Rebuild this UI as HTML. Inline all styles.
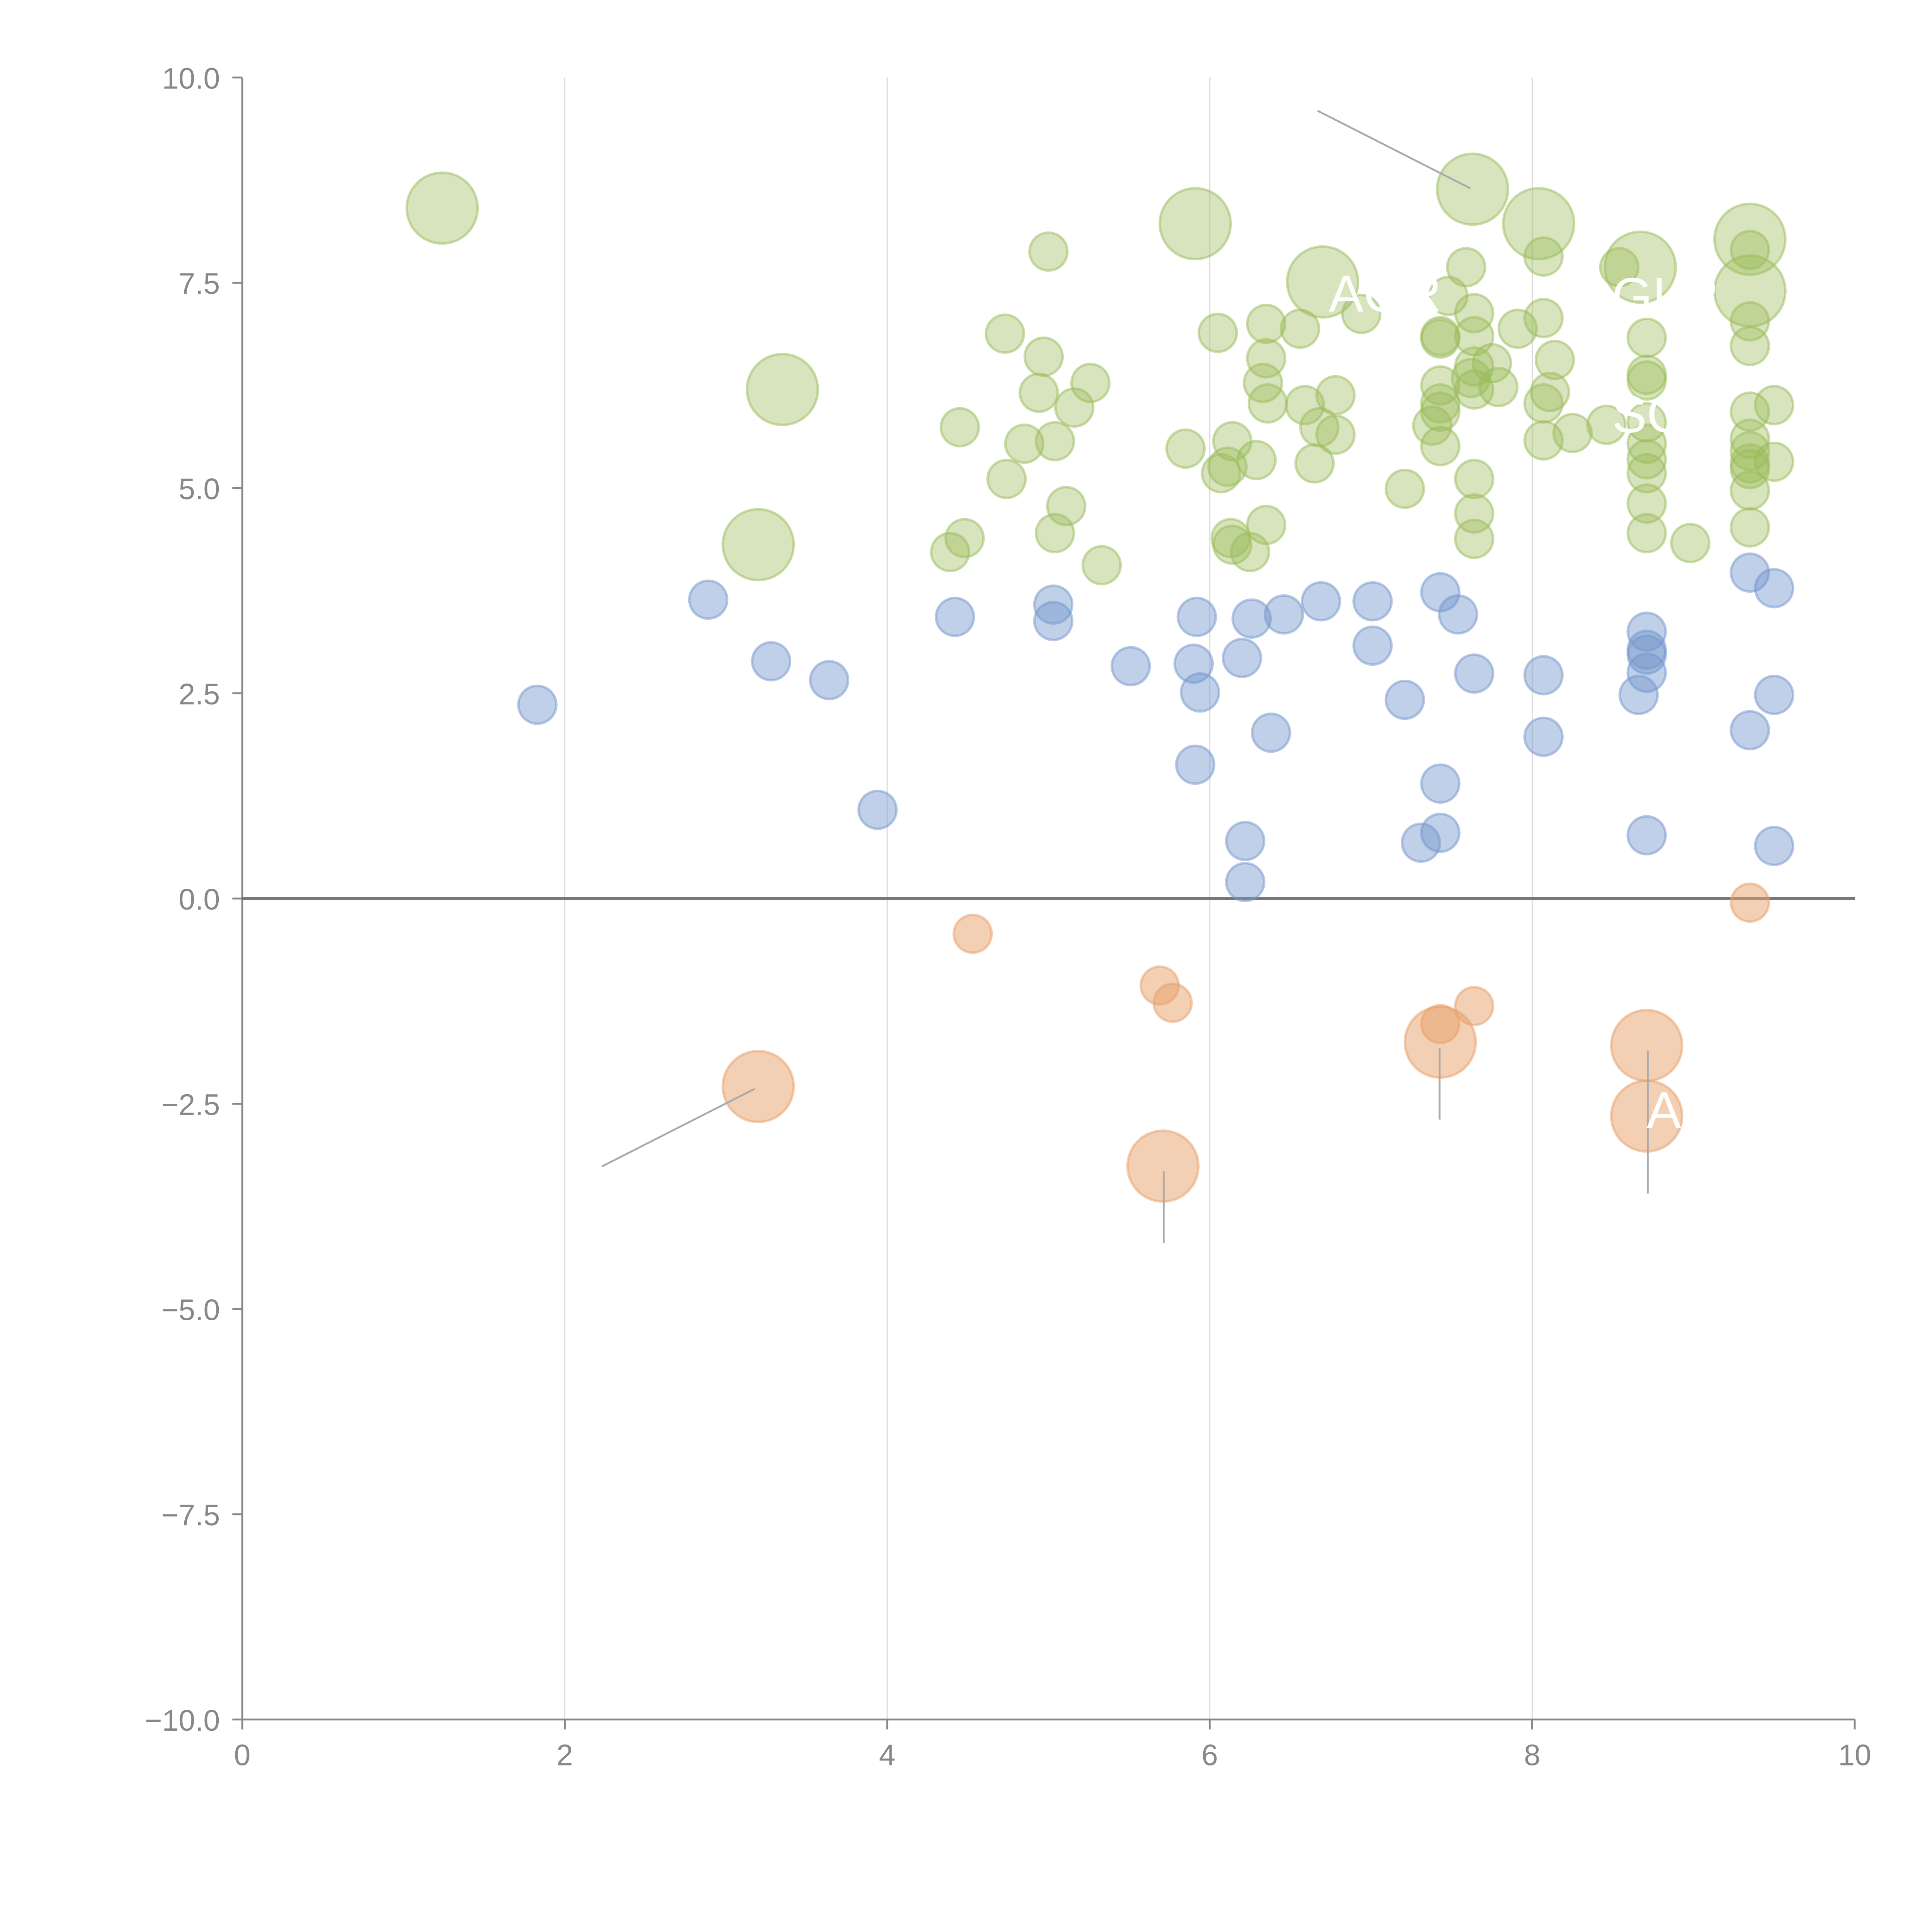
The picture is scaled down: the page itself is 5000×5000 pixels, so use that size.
<!DOCTYPE html>
<html><head><meta charset="utf-8"><style>
html,body{margin:0;padding:0;background:#fff;}
svg{display:block;}
text{font-family:"Liberation Sans",Arial,sans-serif;}
</style></head><body>
<svg id="chart" width="5000" height="5000" viewBox="0 0 1560 1560" xmlns="http://www.w3.org/2000/svg">
<g id="grid"></g>
<g id="axes"></g>
<g id="marks"></g>
<g id="notes"></g>
</svg>
<script>
const xTicks=[0,2,4,6,8,10];
const yTicks=[10,7.5,5,2.5,0,-2.5,-5,-7.5,-10];
const yTickLabels=["10.0","7.5","5.0","2.5","0.0","\u22122.5","\u22125.0","\u22127.5","\u221210.0"];
const greenX=[1.24,5.91,7.63,8.04,6.70,8.67,9.35,9.35,3.35,3.20,
5.00,4.73,4.97,4.45,4.94,5.16,5.26,4.85,5.04,4.74,5.11,5.04,4.48,4.39,5.33,5.85,6.05,6.35,6.35,6.33,6.36,6.56,6.59,6.68,6.78,6.78,6.14,6.11,6.07,6.29,6.65,6.94,6.35,6.13,6.14,6.25,7.21,7.38,7.43,7.43,7.43,7.43,7.43,7.48,7.59,7.64,7.64,7.64,7.62,7.64,7.75,7.79,7.91,8.07,8.07,8.14,8.11,8.07,8.07,8.25,7.64,7.64,7.64,7.43,8.46,8.54,8.71,8.71,8.71,8.71,8.71,8.71,8.71,8.71,8.71,8.98,9.35,9.35,9.35,9.35,9.35,9.35,9.35,9.35,9.35,9.50,9.50,9.35];
const greenY=[8.41,8.22,8.64,8.22,7.51,7.69,8.03,7.40,6.20,4.31,
7.88,6.88,6.60,5.74,6.16,5.98,6.28,5.54,5.57,5.11,4.78,4.45,4.39,4.22,4.06,5.48,6.89,7.00,6.58,6.28,6.03,6.94,6.01,5.74,6.13,5.65,5.57,5.26,5.18,5.34,5.30,7.12,4.55,4.39,4.31,4.22,4.99,5.76,6.03,5.93,6.25,6.82,6.85,7.34,7.69,7.13,6.85,6.48,6.34,6.20,6.52,6.23,6.94,7.82,7.07,6.56,6.17,6.03,5.58,5.67,5.11,4.69,4.38,5.51,5.77,7.69,6.83,6.38,6.31,5.80,5.54,5.35,5.18,4.81,4.45,4.33,6.73,7.03,7.90,5.93,5.60,5.30,4.97,4.52,5.23,6.01,5.32,5.45];
const greenSize=[3.5,3.5,3.5,3.5,3.5,3.5,3.5,3.5,3.5,3.5];
const blueX=[1.83,2.89,3.28,3.64,3.94,4.42,5.03,5.03,5.51,5.92,5.90,5.94,5.91,6.20,6.26,6.46,6.38,6.69,7.01,7.01,7.21,6.22,6.22,7.31,7.43,7.43,7.43,7.54,7.64,8.07,8.07,8.71,8.71,8.71,8.71,8.66,8.71,9.35,9.50,9.50,9.35,9.50];
const blueY=[2.36,3.64,2.89,2.66,1.08,3.43,3.58,3.38,2.83,3.43,2.86,2.51,1.63,2.93,3.41,3.46,2.02,3.62,3.62,3.08,2.42,0.70,0.20,0.68,0.80,1.40,3.73,3.46,2.74,2.72,1.97,3.25,3.03,2.97,2.75,2.48,0.77,3.97,3.78,2.48,2.05,0.64];
const orangeX=[4.53,5.69,5.77,7.43,7.64,9.35,3.20,5.71,7.43,8.71,8.71];
const orangeY=[-0.43,-1.06,-1.27,-1.53,-1.31,-0.05,-2.29,-3.26,-1.75,-1.79,-2.65];
const orangeSize=[1,1,1,1,1,1,3.5,3.5,3.5,3.5,3.5];

const NS="http://www.w3.org/2000/svg";
const X0=195.6,X1=1497.6,Y0=1388.4,Y1=62.6;
function sx(v){return X0+(v-0)/(10-0)*(X1-X0);}
function sy(v){return Y0-(v+10)/20*(Y0-Y1);}
function px(p){return X0+(p-196)*(X1-X0)/1309;}
function py(p){return Y1+(p-62)*(Y0-Y1)/1333;}
function rad(s){return 15.3*Math.sqrt(s);}
function mk(tag,attrs,parent){const e=document.createElementNS(NS,tag);for(const k in attrs)e.setAttribute(k,attrs[k]);parent.appendChild(e);return e;}
const grid=document.getElementById('grid'),axes=document.getElementById('axes'),marks=document.getElementById('marks'),notes=document.getElementById('notes');

xTicks.forEach((t,i)=>{
  if(t>0&&t<10){const g=mk('line',{x1:sx(t),x2:sx(t),y1:Y1,y2:Y0,stroke:'#dddddd','stroke-width':1},grid);
  
  }
  const tk=mk('line',{x1:sx(t),x2:sx(t),y1:Y0,y2:Y0+8,stroke:'#888','stroke-width':1.5},axes);
  
  
  const lb=mk('text',{x:sx(t),y:Y0+37,'text-anchor':'middle','font-size':24,fill:'#888'},axes);
  lb.textContent=t;
  
  
});
yTicks.forEach((t,i)=>{
  const tk=mk('line',{x1:X0-8,x2:X0,y1:sy(t),y2:sy(t),stroke:'#888','stroke-width':1.5},axes);
  
  
  const lb=mk('text',{x:X0-18,y:sy(t)+9,'text-anchor':'end','font-size':24,fill:'#888'},axes);
  lb.textContent=yTickLabels[i];
  
  
});
let a=mk('line',{x1:X0,x2:X0,y1:Y1,y2:Y0,stroke:'#888','stroke-width':1.5},axes);


a=mk('line',{x1:X0,x2:X1,y1:Y0,y2:Y0,stroke:'#888','stroke-width':1.5},axes);


a=mk('line',{x1:X0,x2:X1,y1:sy(0),y2:sy(0),stroke:'#777','stroke-width':2.5},axes);



function series(xs,ys,sizes,color,op,name){
  xs.forEach((x,i)=>{
    const s=sizes[i]!==undefined?sizes[i]:1;
    const c=mk('circle',{cx:sx(x),cy:sy(ys[i]),r:rad(s),fill:color,'fill-opacity':op,stroke:color,'stroke-opacity':0.5,'stroke-width':2},marks);
    
    
  });
}
series(greenX,greenY,greenSize,'#9abb59',0.4,'bubble-green');
series(blueX,blueY,[],'#7396cc',0.45,'bubble-blue');
series(orangeX,orangeY,orangeSize,'#e8a06a',0.5,'bubble-orange');

const leaders=[[1069,89,1193,152],[612,883,488,946],[944,950,944,1008],[1168,850,1168,908],[1337,852,1337,968]];
leaders.forEach(l=>{
  const e=mk('line',{x1:px(l[0]),y1:py(l[1]),x2:px(l[2]),y2:py(l[3]),stroke:'#aaa','stroke-width':1.5},notes);
  
  
});
const labels=[["AGR",1078,252],["GLR",1308,254],["SGT",1308,350],["A",1336,915]];
labels.forEach(l=>{
  const e=mk('text',{x:px(l[1]),y:py(l[2]),'font-size':42,fill:'#fff'},notes);
  e.textContent=l[0];
  
  
});
</script>
</body></html>
